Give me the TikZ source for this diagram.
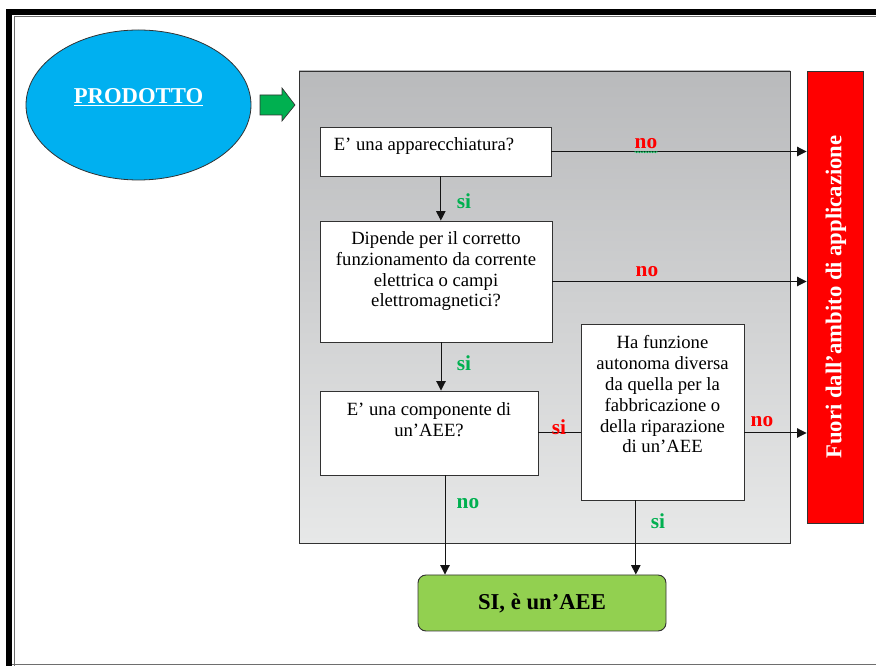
\documentclass[tikz,border=0pt]{standalone}
\usepackage{fontspec}
\setmainfont{Liberation Serif}
\usetikzlibrary{arrows.meta,shapes.geometric,decorations.pathmorphing}

\begin{document}
\begin{tikzpicture}[x=0.75pt, y=-0.75pt,
		box/.style={draw=DARK_GRAY, line width=0.7pt, fill=white, inner sep=0pt},
		qtext/.style={font=\fontsize{14}{15.6}\selectfont, align=center, inner sep=0pt, anchor=north},
		lab/.style={font=\bfseries\fontsize{16}{18}\selectfont, inner sep=0pt},
		flow/.style={draw=ALMOST_BLACK, line width=0.75pt, -{Triangle[length=7pt, width=7pt]}},
		link/.style={draw=ALMOST_BLACK, line width=0.75pt}]
				\definecolor{SKY_BLUE}{RGB}{0, 176, 240}
				\definecolor{ARROW_GREEN}{RGB}{0, 176, 80}
				\definecolor{LABEL_GREEN}{RGB}{0, 176, 80}
				\definecolor{LABEL_RED}{RGB}{255, 0, 0}
				\definecolor{PANEL_TOP}{RGB}{185, 186, 188}
				\definecolor{PANEL_BOTTOM}{RGB}{231, 232, 232}
				\definecolor{OUT_RED}{RGB}{255, 0, 0}
				\definecolor{RESULT_GREEN}{RGB}{146, 208, 80}
				\definecolor{ALMOST_BLACK}{RGB}{20, 20, 20}
				\definecolor{DARK_GRAY}{RGB}{50, 50, 50}
				\definecolor{FRAME_GRAY}{RGB}{110, 110, 110}
				\useasboundingbox (0,0) rectangle (876,666);

				\begin{scope}
					\fill[black] (6,9) rectangle (876,15);
					\fill[black] (6,9) rectangle (12,666);
					\draw[FRAME_GRAY, line width=0.75pt] (14,666) -- (14,16.5) -- (876,16.5);
					\draw[FRAME_GRAY, line width=0.75pt] (12,665) -- (876,665);
				\end{scope}

				\node[ellipse, draw=DARK_GRAY, fill=SKY_BLUE, line width=0.6pt, minimum width=168.75pt, minimum height=112.5pt, inner sep=0pt] (prodotto) at (138.5,105) {};
				\node[text=white, font=\bfseries\fontsize{17}{20}\selectfont, inner sep=0pt] (prodottotext) at (138.5,97) {\underline{PRODOTTO}};

				\draw[DARK_GRAY, fill=ARROW_GREEN, line width=0.5pt] (260,95) -- (282,95) -- (282,88) -- (295,105) 
					-- (282,121) -- (282,115) -- (260,115) -- cycle;

				\begin{scope}
					\shade[top color=PANEL_TOP, bottom color=PANEL_BOTTOM] (299,71) rectangle (790,543);
					\draw[DARK_GRAY, line width=0.7pt] (299,71) rectangle (790,543);
				\end{scope}

				\node[draw=DARK_GRAY, line width=0.7pt, fill=OUT_RED, minimum width=42pt, minimum height=339pt, inner sep=0pt] (fuori) at (835,297) {};
				\node[rotate=90, text=white, font=\bfseries\fontsize{17}{20}\selectfont, inner sep=0pt] (fuoritext) at (836,297) {Fuori dall’ambito di applicazione};

				\node[box, minimum width=173.25pt, minimum height=36.75pt] (q1) at (435.5,151.5) {};
				\node[qtext, anchor=north west] (t1) at ([xshift=10.5pt, yshift=-8pt]q1.north west) {E’ una apparecchiatura?};

				\node[box, minimum width=174pt, minimum height=90.75pt] (q2) at (436,281.5) {};
				\node[qtext] (t2) at ([yshift=-8pt]q2.north) {Dipende per il corretto\\funzionamento da corrente\\elettrica o campi\\elettromagnetici?};

				\node[box, minimum width=163.5pt, minimum height=63pt] (q3) at (429,433) {};
				\node[qtext] (t3) at ([yshift=-9pt]q3.north) {E’ una componente di\\un’AEE?};

				\node[box, minimum width=122.25pt, minimum height=132pt] (q4) at (662.5,412) {};
				\node[qtext] (t4) at ([yshift=-9pt]q4.north) {Ha funzione\\autonoma diversa\\da quella per la\\fabbricazione o\\della riparazione\\di un’AEE};

				\node[draw=DARK_GRAY, line width=0.7pt, fill=RESULT_GREEN, rounded corners=6pt, minimum width=186pt, minimum height=42pt, font=\bfseries\fontsize{17}{20}\selectfont] (aee) at (542,603) {SI, è un’AEE};

				\draw[flow] (q1.east) -- (q1.east -| fuori.west);
				\draw[flow] (q2.east) -- (q2.east -| fuori.west);
				\draw[flow] ([xshift=4pt]q1.south) -- ([xshift=4pt]q1.south |- q2.north);
				\draw[flow] ([xshift=3.75pt]q2.south) -- ([xshift=3.75pt]q2.south |- q3.north);
				\draw[link] (q3.east) -- (q3.east -| q4.west);
				\draw[flow] (q3.east -| q4.east) -- (q3.east -| fuori.west);
				\draw[flow] ([xshift=12pt]q3.south) -- ([xshift=12pt]q3.south |- aee.north);
				\draw[flow] ([xshift=-20pt]q4.south) -- ([xshift=-20pt]q4.south |- aee.north);

				\node[lab, text=LABEL_RED] (no1) at (646,144) {no};
				\draw[LABEL_GREEN, line width=0.5pt, decorate, decoration={snake, amplitude=0.5pt, segment length=2pt}] ([yshift=-2pt]no1.south west) -- ([yshift=-2pt]no1.south east);
				\node[lab, text=LABEL_GREEN] (si1) at (464,201) {si};
				\node[lab, text=LABEL_RED] (no2) at (647,272) {no};
				\node[lab, text=LABEL_GREEN] (si2) at (464,363) {si};
				\node[lab, text=LABEL_RED] (si3) at (559,427) {si};
				\node[lab, text=LABEL_RED] (no3) at (762,422) {no};
				\node[lab, text=LABEL_GREEN] (no4) at (468,504) {no};
				\node[lab, text=LABEL_GREEN] (si4) at (658,521) {si};
			\end{tikzpicture}
\end{document}
